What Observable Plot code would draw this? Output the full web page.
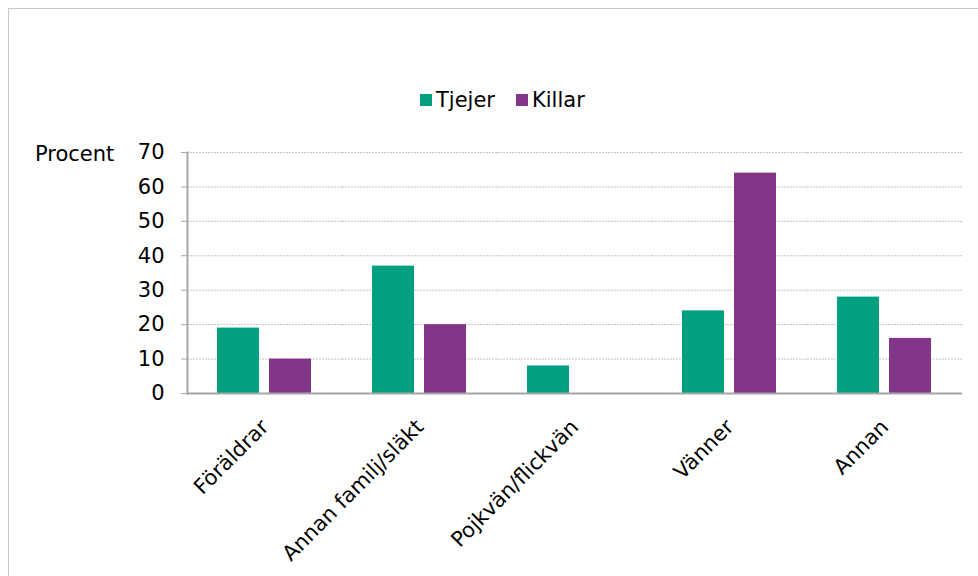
<!DOCTYPE html>
<html><head><meta charset="utf-8">
<script src="https://cdn.jsdelivr.net/npm/d3@7"></script>
<script src="https://cdn.jsdelivr.net/npm/@observablehq/plot@0.6"></script>
<style>
body{margin:0;background:#fff;font-family:"DejaVu Sans",sans-serif;}
#wrap{position:relative;width:978px;height:576px;overflow:hidden;background:#fff;}
#border{position:absolute;left:8px;top:8px;width:1000px;height:600px;border-top:1px solid #c8c8c8;border-left:1px solid #c8c8c8;}
#chart{position:absolute;left:0;top:0;}
#legend{position:absolute;left:420px;top:88px;font-size:21px;line-height:24px;display:flex;align-items:center;color:#000;}
.sw{display:inline-block;width:12px;height:12px;margin-right:4px;}
.item{display:flex;align-items:center;margin-right:21px;}
#ylabel{position:absolute;left:35px;top:142px;font-size:21px;line-height:24px;color:#000;}
</style></head>
<body>
<div id="wrap">
  <div id="border"></div>
  <div id="chart"></div>
  <div id="legend"></div>
  <div id="ylabel">Procent</div>
</div>
<script>
const categories = ["Föräldrar", "Annan familj/släkt", "Pojkvän/flickvän", "Vänner", "Annan"];
const series = ["Tjejer", "Killar"];
const tjejer = [19, 37, 8, 24, 28];
const killar = [10, 20, 0, 64, 16];
const yTicks = [0, 10, 20, 30, 40, 50, 60, 70];
const colors = ["#009f7f", "#833689"];

const data = categories.flatMap((c, i) => [
  {cat: c, group: series[0], value: tjejer[i]},
  {cat: c, group: series[1], value: killar[i]}
]);

const legend = document.getElementById("legend");
series.forEach((s, i) => {
  const it = document.createElement("span");
  it.className = "item";
  it.innerHTML = `<span class="sw" style="background:${colors[i]}"></span><span>${s}</span>`;
  legend.appendChild(it);
});

const chart = Plot.plot({
  width: 978,
  height: 576,
  marginLeft: 186,
  marginRight: 15,
  marginTop: 152,
  marginBottom: 183,
  style: {fontFamily: "DejaVu Sans", fontSize: "21px", color: "#000", background: "transparent"},
  fx: {domain: categories, padding: 0, label: null},
  x: {domain: series, paddingInner: 0.19, paddingOuter: 0.585, axis: null},
  y: {domain: [0, 70], label: null},
  color: {domain: series, range: colors},
  marks: [
    Plot.gridY(yTicks, {stroke: "#c4c4c4", strokeOpacity: 1, strokeDasharray: "2 1"}),
    Plot.barY(data, {fx: "cat", x: "group", y: "value", fill: "group"}),
    Plot.ruleY([0], {stroke: "#a6a6a6", strokeWidth: 2}),
    Plot.frame({anchor: "left", stroke: "#a6a6a6", strokeWidth: 2, facetAnchor: "left"}),
    Plot.axisY(yTicks, {tickSize: 6, tickPadding: 17, stroke: "#a6a6a6", label: null, fontSize: 21}),
    Plot.axisFx({anchor: "bottom", tickRotate: -45, tickSize: 0, tickPadding: 30, dx: 0, label: null, fontSize: 21})
  ]
});
document.getElementById("chart").appendChild(chart);
</script>
</body></html>
